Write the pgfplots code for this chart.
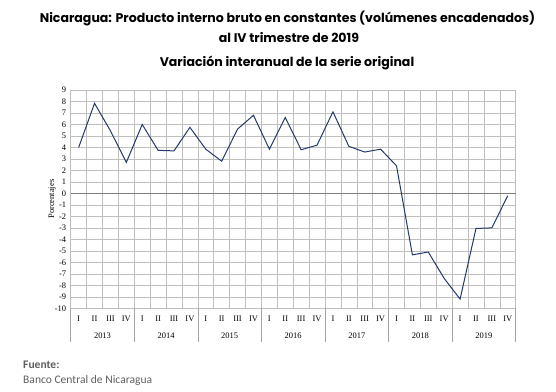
\documentclass[border=0pt]{standalone}
\usepackage{fontspec}
\setmainfont{Liberation Serif}
\newfontfamily\titlefont{Poppins}
\newfontfamily\notefont{Carlito}
\usepackage{pgfplots}
\pgfplotsset{compat=1.18}
\definecolor{serie}{RGB}{36,56,108}
\definecolor{gridc}{RGB}{190,190,190}
\definecolor{zeroc}{RGB}{125,125,125}
\definecolor{notec}{RGB}{95,95,95}
\pgfplotstableread{
x y
0 4.0
1 7.84
2 5.45
3 2.7
4 6.0
5 3.75
6 3.7
7 5.75
8 3.85
9 2.8
10 5.6
11 6.8
12 3.85
13 6.6
14 3.8
15 4.2
16 7.1
17 4.1
18 3.6
19 3.85
20 2.4
21 -5.35
22 -5.1
23 -7.4
24 -9.2
25 -3.05
26 -3.0
27 -0.2
}\pibdata
\begin{document}
\begin{tikzpicture}[x=1bp,y=1bp]
\useasboundingbox (0,0) rectangle (556,391);
\node[font=\titlefont\bfseries\fontsize{12.6}{14}\selectfont] at (287.5,373) {Nicaragua: Producto interno bruto en constantes (volúmenes encadenados)};
\node[font=\titlefont\bfseries\fontsize{12.6}{14}\selectfont] at (289,353) {al IV trimestre de 2019};
\node[font=\titlefont\bfseries\fontsize{12.6}{14}\selectfont] at (287,328) {Variación interanual de la serie original};
\node[anchor=west, font=\notefont\bfseries\fontsize{11.6}{13}\selectfont, text=notec, inner sep=0pt] at (23,26) {Fuente:};
\node[anchor=west, font=\notefont\fontsize{11.6}{13}\selectfont, text=notec, inner sep=0pt] at (23,11) {Banco Central de Nicaragua};
\begin{axis}[
  at={(70.7bp,82.7bp)}, anchor=south west,
  width=445bp, height=218.3bp, scale only axis,
  xmin=-0.5, xmax=27.5, ymin=-10, ymax=9,
  clip=false,
  ytick={-10,-9,...,9},
  xtick={0,...,27},
  xticklabels={I,II,III,IV,I,II,III,IV,I,II,III,IV,I,II,III,IV,I,II,III,IV,I,II,III,IV,I,II,III,IV},
  minor xtick={-0.5,0.5,...,27.5},
  xminorgrids, ymajorgrids,
  grid style={gridc, line width=0.5pt},
  minor grid style={gridc, line width=0.5pt},
  major tick length=0pt, minor tick length=0pt,
  axis line style={gridc, line width=0.5pt},
  ytick style={draw=none},
  extra y ticks={0}, extra y tick labels={},
  extra y tick style={grid style={zeroc, line width=0.8pt}},
  ticklabel style={font=\fontsize{8.5}{10}\selectfont, text=black},
  /pgf/number format/assume math mode=true,
  yticklabel style={xshift=-1bp},
  xticklabel style={yshift=-4bp},
  ylabel={Porcentajes},
  ylabel style={font=\fontsize{8.5}{10}\selectfont, yshift=-8bp},
]
\addplot[serie, line width=1pt, mark=none] table[x=x,y=y] {\pibdata};
\draw[zeroc!70, line width=0.5pt] (axis cs:-0.5,-10) -- ([yshift=-34bp]axis cs:-0.5,-10);
\draw[zeroc!70, line width=0.5pt] (axis cs:3.5,-10) -- ([yshift=-34bp]axis cs:3.5,-10);
\draw[zeroc!70, line width=0.5pt] (axis cs:7.5,-10) -- ([yshift=-34bp]axis cs:7.5,-10);
\draw[zeroc!70, line width=0.5pt] (axis cs:11.5,-10) -- ([yshift=-34bp]axis cs:11.5,-10);
\draw[zeroc!70, line width=0.5pt] (axis cs:15.5,-10) -- ([yshift=-34bp]axis cs:15.5,-10);
\draw[zeroc!70, line width=0.5pt] (axis cs:19.5,-10) -- ([yshift=-34bp]axis cs:19.5,-10);
\draw[zeroc!70, line width=0.5pt] (axis cs:23.5,-10) -- ([yshift=-34bp]axis cs:23.5,-10);
\draw[zeroc!70, line width=0.5pt] (axis cs:27.5,-10) -- ([yshift=-34bp]axis cs:27.5,-10);
\node[font=\fontsize{8.5}{10}\selectfont] at ([yshift=-27bp]axis cs:1.5,-10) {2013};
\node[font=\fontsize{8.5}{10}\selectfont] at ([yshift=-27bp]axis cs:5.5,-10) {2014};
\node[font=\fontsize{8.5}{10}\selectfont] at ([yshift=-27bp]axis cs:9.5,-10) {2015};
\node[font=\fontsize{8.5}{10}\selectfont] at ([yshift=-27bp]axis cs:13.5,-10) {2016};
\node[font=\fontsize{8.5}{10}\selectfont] at ([yshift=-27bp]axis cs:17.5,-10) {2017};
\node[font=\fontsize{8.5}{10}\selectfont] at ([yshift=-27bp]axis cs:21.5,-10) {2018};
\node[font=\fontsize{8.5}{10}\selectfont] at ([yshift=-27bp]axis cs:25.5,-10) {2019};
\end{axis}
\end{tikzpicture}
\end{document}
